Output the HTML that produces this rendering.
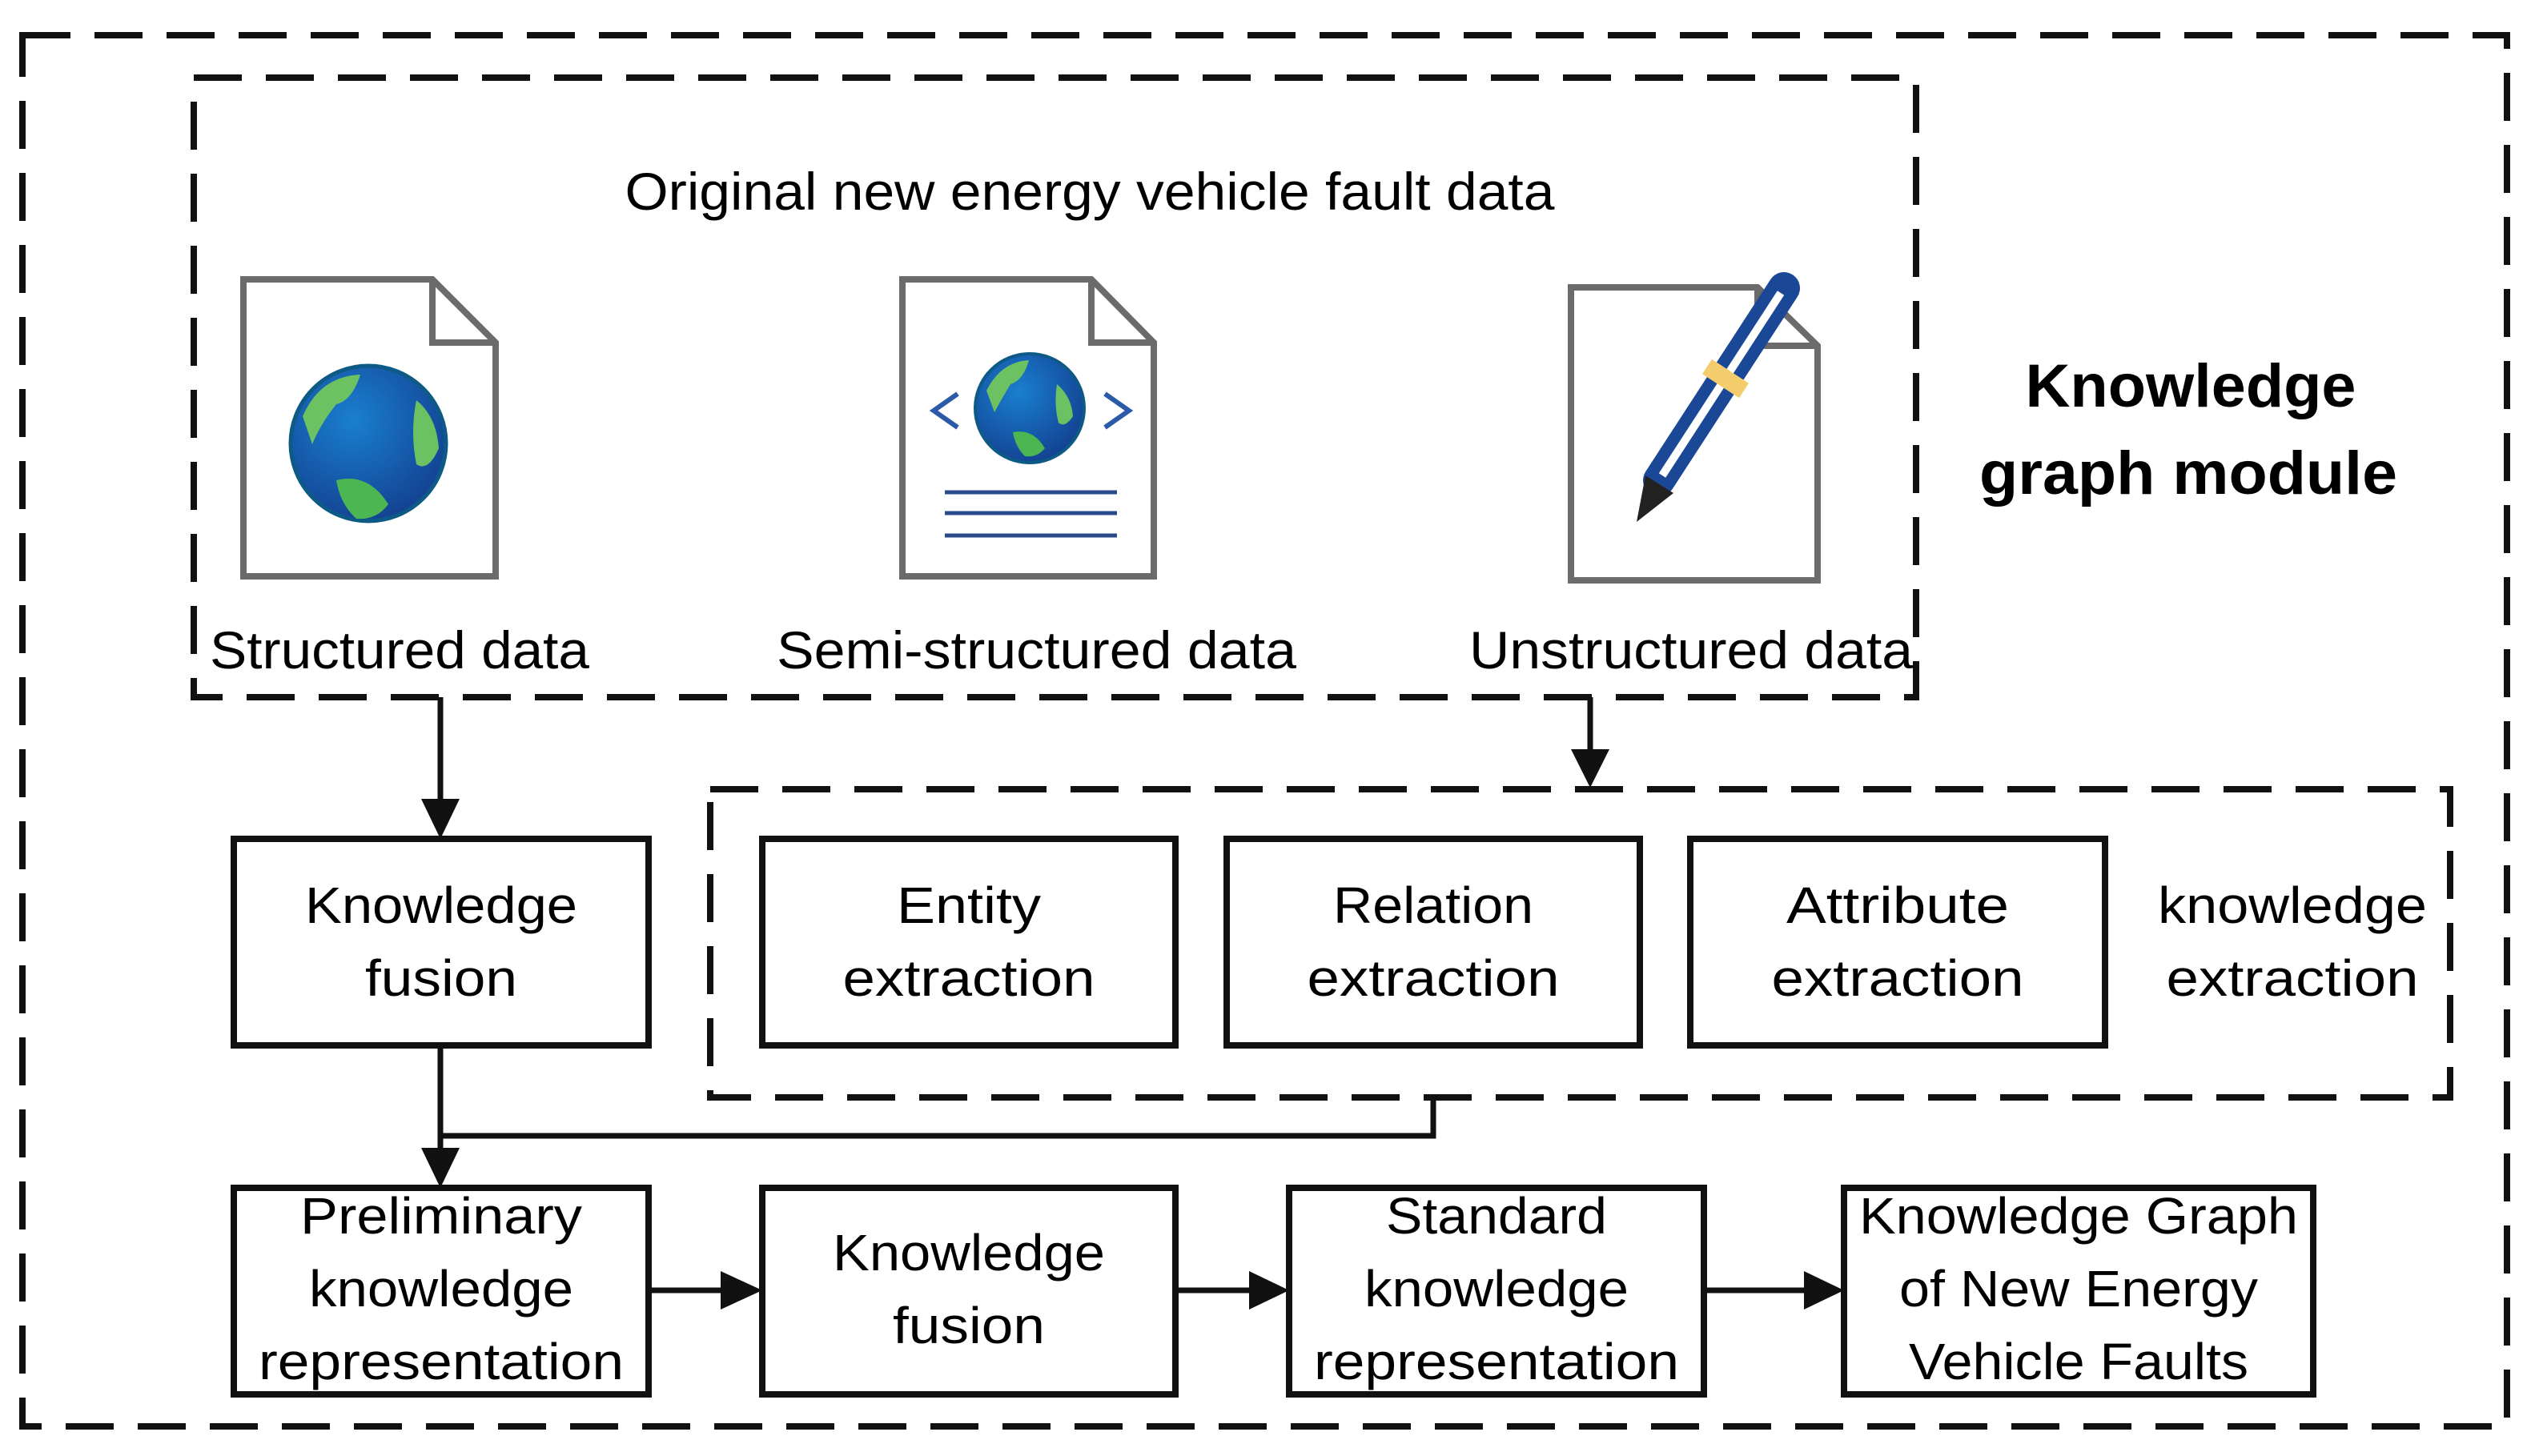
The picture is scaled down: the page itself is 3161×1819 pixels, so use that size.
<!DOCTYPE html>
<html><head><meta charset="utf-8"><style>
html,body{margin:0;padding:0;background:#fff;}
svg{display:block;}
text{font-family:"Liberation Sans",sans-serif;fill:#000;}
</style></head><body>
<svg width="3161" height="1819" viewBox="0 0 3161 1819" xmlns="http://www.w3.org/2000/svg">
<defs>
<radialGradient id="gl" cx="0.4" cy="0.35" r="0.7"><stop offset="0" stop-color="#1a7fd0"/><stop offset="1" stop-color="#13408f"/></radialGradient>
<linearGradient id="ln" x1="0" x2="1"><stop offset="0" stop-color="#8aa4bf"/><stop offset="1" stop-color="#5585cf"/></linearGradient>
</defs>
<g fill="none" stroke="#111" stroke-width="8" stroke-dasharray="60 30">
<rect x="28" y="44" width="3103" height="1738"/>
<rect x="242" y="97" width="2151" height="774"/>
<rect x="887" y="986" width="2173" height="385"/>
</g>
<g stroke="#6b6b6b" stroke-width="8" fill="#fff">
<path d="M304 349 H540 L619 428 V720 H304 Z"/>
<path d="M540 349 V428 H619" fill="none"/>
<path d="M1127 349 H1363 L1441 428 V720 H1127 Z"/>
<path d="M1363 349 V428 H1441" fill="none"/>
<path d="M1962 359 H2195 L2270 432 V725 H1962 Z"/>
<path d="M2195 359 V432 H2270" fill="none"/>
</g>
<circle cx="460" cy="554" r="97" fill="url(#gl)" stroke="#0d5a86" stroke-width="5"/>
<path d="M378 520 Q400 470 450 468 Q440 500 420 505 Q400 530 390 555 Z" fill="#6cc263"/>
<path d="M420 600 Q460 590 485 630 Q470 650 445 648 Q425 630 420 600 Z" fill="#4cb653"/>
<path d="M520 500 Q545 520 548 560 Q535 590 520 580 Q512 540 520 500 Z" fill="#6cc263"/>
<circle cx="1286" cy="510" r="68" fill="url(#gl)" stroke="#0d5a86" stroke-width="4"/>
<path d="M1232 488 Q1250 452 1285 450 Q1278 475 1262 480 Q1250 500 1242 515 Z" fill="#6cc263"/>
<path d="M1265 540 Q1290 535 1305 560 Q1295 572 1280 570 Q1268 558 1265 540 Z" fill="#4cb653"/>
<path d="M1320 480 Q1338 495 1340 520 Q1330 535 1322 528 Q1316 505 1320 480 Z" fill="#6cc263"/>
<g stroke="#2a5aa8" stroke-width="6" fill="none"><path d="M1196 492 L1166 513 L1196 534"/><path d="M1380 492 L1410 513 L1380 534"/></g>
<g stroke="#2a4a8a" stroke-width="5"><line x1="1180" y1="615" x2="1395" y2="615"/><line x1="1180" y1="641" x2="1395" y2="641"/><line x1="1180" y1="669" x2="1395" y2="669"/></g>
<g stroke="url(#ln)" stroke-width="8"><line x1="2025" y1="458" x2="2206" y2="458"/><line x1="2025" y1="507" x2="2206" y2="507"/><line x1="2025" y1="553" x2="2206" y2="553"/><line x1="2025" y1="604" x2="2206" y2="604"/><line x1="2025" y1="653" x2="2206" y2="653"/></g>
<line x1="2072" y1="600" x2="2228" y2="360" stroke="#1a4896" stroke-width="40" stroke-linecap="round"/>
<line x1="2076" y1="594" x2="2224" y2="366" stroke="#fff" stroke-width="10"/>
<line x1="2132" y1="458" x2="2178" y2="488" stroke="#f4cc6c" stroke-width="22"/>
<path d="M2055 594 L2090 616 L2044 652 Z" fill="#222"/>
<g font-size="66">
<text x="1361" y="262" text-anchor="middle" textLength="1161" lengthAdjust="spacingAndGlyphs">Original new energy vehicle fault data</text>
<text x="262" y="835" textLength="474" lengthAdjust="spacingAndGlyphs">Structured data</text>
<text x="970" y="835" textLength="649" lengthAdjust="spacingAndGlyphs">Semi-structured data</text>
<text x="1835" y="835" textLength="554" lengthAdjust="spacingAndGlyphs">Unstructured data</text>
</g>
<g font-size="76" font-weight="bold" text-anchor="middle">
<text x="2736" y="508" textLength="413" lengthAdjust="spacingAndGlyphs">Knowledge</text>
<text x="2733" y="617" textLength="522" lengthAdjust="spacingAndGlyphs">graph module</text>
</g>
<g fill="#fff" stroke="#111" stroke-width="8">
<rect x="292" y="1048" width="518" height="258"/>
<rect x="952" y="1048" width="516" height="258"/>
<rect x="1532" y="1048" width="516" height="258"/>
<rect x="2111" y="1048" width="518" height="258"/>
<rect x="292" y="1484" width="518" height="258"/>
<rect x="952" y="1484" width="516" height="258"/>
<rect x="1610" y="1484" width="518" height="258"/>
<rect x="2303" y="1484" width="586" height="258"/>
</g>
<g font-size="64" text-anchor="middle">
<text x="551" y="1153" textLength="340" lengthAdjust="spacingAndGlyphs">Knowledge</text>
<text x="551" y="1244" textLength="190" lengthAdjust="spacingAndGlyphs">fusion</text>
<text x="1210" y="1153" textLength="180" lengthAdjust="spacingAndGlyphs">Entity</text>
<text x="1210" y="1244" textLength="315" lengthAdjust="spacingAndGlyphs">extraction</text>
<text x="1790" y="1153" textLength="250" lengthAdjust="spacingAndGlyphs">Relation</text>
<text x="1790" y="1244" textLength="315" lengthAdjust="spacingAndGlyphs">extraction</text>
<text x="2370" y="1153" textLength="278" lengthAdjust="spacingAndGlyphs">Attribute</text>
<text x="2370" y="1244" textLength="315" lengthAdjust="spacingAndGlyphs">extraction</text>
<text x="2863" y="1153" textLength="336" lengthAdjust="spacingAndGlyphs">knowledge</text>
<text x="2863" y="1244" textLength="315" lengthAdjust="spacingAndGlyphs">extraction</text>
<text x="551" y="1541" textLength="352" lengthAdjust="spacingAndGlyphs">Preliminary</text>
<text x="551" y="1632" textLength="330" lengthAdjust="spacingAndGlyphs">knowledge</text>
<text x="551" y="1723" textLength="456" lengthAdjust="spacingAndGlyphs">representation</text>
<text x="1210" y="1587" textLength="340" lengthAdjust="spacingAndGlyphs">Knowledge</text>
<text x="1210" y="1678" textLength="190" lengthAdjust="spacingAndGlyphs">fusion</text>
<text x="1869" y="1541" textLength="276" lengthAdjust="spacingAndGlyphs">Standard</text>
<text x="1869" y="1632" textLength="330" lengthAdjust="spacingAndGlyphs">knowledge</text>
<text x="1869" y="1723" textLength="456" lengthAdjust="spacingAndGlyphs">representation</text>
<text x="2596" y="1541" textLength="548" lengthAdjust="spacingAndGlyphs">Knowledge Graph</text>
<text x="2596" y="1632" textLength="448" lengthAdjust="spacingAndGlyphs">of New Energy</text>
<text x="2596" y="1723" textLength="424" lengthAdjust="spacingAndGlyphs">Vehicle Faults</text>
</g>
<g stroke="#111" stroke-width="7" fill="none">
<line x1="550" y1="871" x2="550" y2="1000"/>
<line x1="1986" y1="871" x2="1986" y2="940"/>
<line x1="550" y1="1306" x2="550" y2="1435"/>
<polyline points="550,1419 1790,1419 1790,1371"/>
<line x1="810" y1="1612" x2="905" y2="1612"/>
<line x1="1468" y1="1612" x2="1562" y2="1612"/>
<line x1="2128" y1="1612" x2="2255" y2="1612"/>
</g>
<g fill="#111">
<path d="M526 998 L574 998 L550 1048 Z"/>
<path d="M1962 936 L2010 936 L1986 984 Z"/>
<path d="M526 1434 L574 1434 L550 1484 Z"/>
<path d="M900 1588 L952 1612 L900 1636 Z"/>
<path d="M1560 1588 L1610 1612 L1560 1636 Z"/>
<path d="M2253 1588 L2303 1612 L2253 1636 Z"/>
</g>
</svg>
</body></html>
